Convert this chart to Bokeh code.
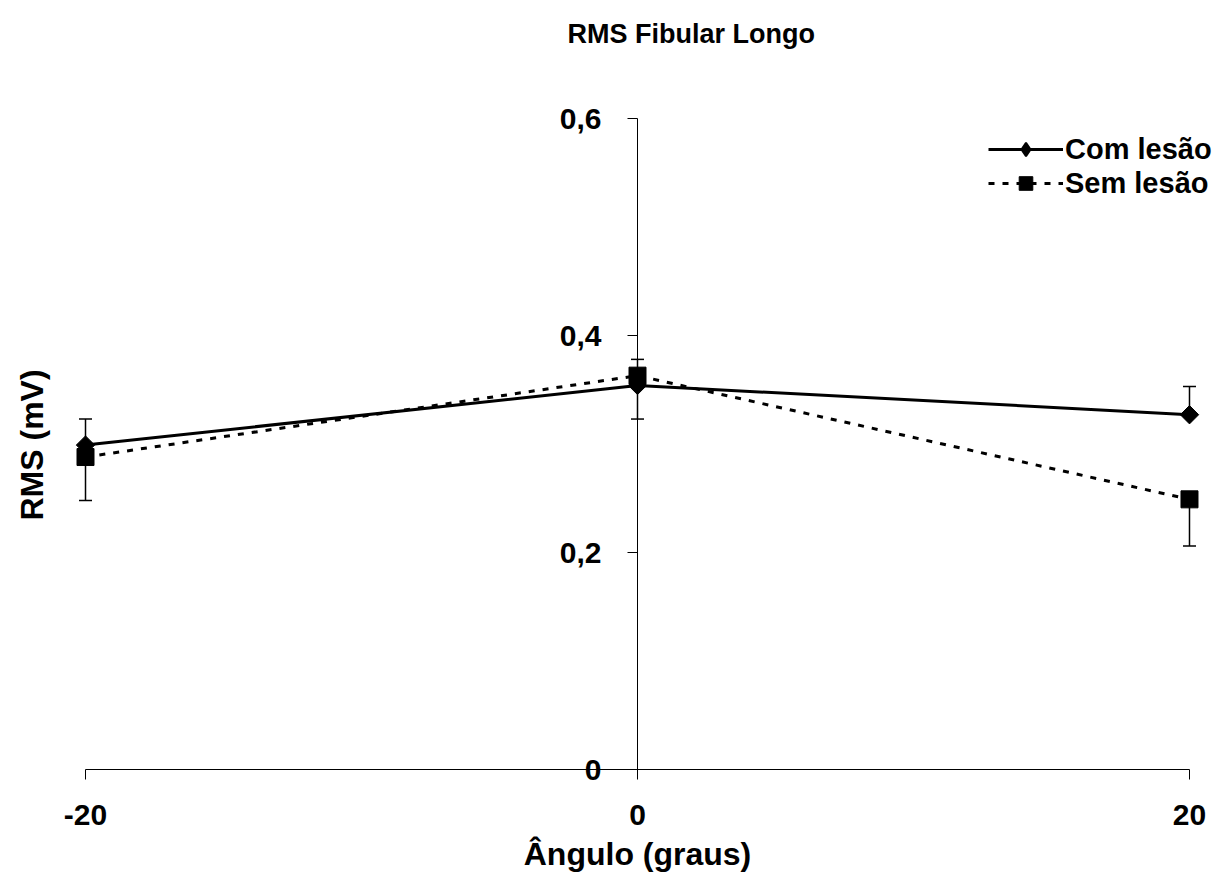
import numpy as np
from bokeh.plotting import figure
from bokeh.models import (FixedTicker, CustomJSTickFormatter, Whisker, TeeHead,
                          Legend, LegendItem, Title, Label, ColumnDataSource)
from bokeh.embed import file_html
from bokeh.resources import INLINE

# ---- data ----
angles = [-20, 0, 20]
com_lesao = [0.299, 0.354, 0.327]
com_lesao_err = [0.024, 0.024, 0.026]   # upper error
sem_lesao = [0.288, 0.363, 0.249]
sem_lesao_err = [0.040, 0.040, 0.043]   # lower error
x_ticks = [-20, 0, 20]
x_tick_labels = ["-20", "0", "20"]
y_ticks = [0, 0.2, 0.4, 0.6]
y_tick_labels = ["0", "0,2", "0,4", "0,6"]
series_names = ["Com lesão", "Sem lesão"]
title_text = "RMS Fibular Longo"
x_label = "Ângulo (graus)"
y_label = "RMS (mV)"

FONT = "Liberation Sans"

LOOKUP = """
    let best = 0, bd = Infinity;
    for (let i = 0; i < tvals.length; i++) {
        const d = Math.abs(tvals[i] - tick);
        if (d < bd) { bd = d; best = i; }
    }
    return tlabels[best];
"""

p = figure(frame_width=1154, frame_height=880,
           x_range=(-20.906, 20.906), y_range=(-0.1023, 0.70876),
           output_backend="svg", toolbar_location=None,
           min_border_left=60, min_border_right=2,
           min_border_top=0, min_border_bottom=0)
p.title = None
p.outline_line_color = None
p.xgrid.visible = False
p.ygrid.visible = False
p.background_fill_color = "white"
p.border_fill_color = "white"

# chart title (inside the frame, above the plot area)
p.add_layout(Label(x=-2.536, y=0.678, text=title_text, text_font=FONT,
                   text_font_size="27px", text_font_style="bold", text_color="black",
                   text_align="left", text_baseline="middle"))
p.add_layout(Title(text=y_label, text_font=FONT, text_font_size="32px",
                   text_font_style="bold", text_color="black",
                   align="left", offset=360, standoff=22), "left")

# x axis at y = 0
xa = p.xaxis[0]
xa.fixed_location = 0
xa.ticker = FixedTicker(ticks=x_ticks)
xa.formatter = CustomJSTickFormatter(args=dict(tvals=x_ticks, tlabels=x_tick_labels), code=LOOKUP)
xa.bounds = (-20, 20)
xa.minor_tick_line_color = None
xa.major_tick_in = 0
xa.major_tick_out = 10
xa.major_tick_line_color = "black"
xa.axis_line_color = "black"
xa.axis_line_width = 1
xa.major_label_text_font = FONT
xa.major_label_text_font_size = "30px"
xa.major_label_text_font_style = "bold"
xa.major_label_text_color = "black"
xa.major_label_standoff = 25
xa.axis_label = x_label
xa.axis_label_text_font = FONT
xa.axis_label_text_font_size = "32px"
xa.axis_label_text_font_style = "bold"
xa.axis_label_text_color = "black"
xa.axis_label_standoff = 8

# y axis at x = 0
ya = p.yaxis[0]
ya.fixed_location = 0
ya.ticker = FixedTicker(ticks=y_ticks)
ya.formatter = CustomJSTickFormatter(args=dict(tvals=y_ticks, tlabels=y_tick_labels), code=LOOKUP)
ya.bounds = (0, 0.6)
ya.minor_tick_line_color = None
ya.major_tick_in = 0
ya.major_tick_out = 10
ya.axis_line_color = "black"
ya.major_tick_line_color = "black"
ya.major_label_text_font = FONT
ya.major_label_text_font_size = "30px"
ya.major_label_text_font_style = "bold"
ya.major_label_text_color = "black"
ya.major_label_standoff = 26

# error bars
com_src = ColumnDataSource(dict(x=angles, y=com_lesao,
                                up=[v + e for v, e in zip(com_lesao, com_lesao_err)],
                                ang=[np.pi / 4] * len(angles)))
sem_src = ColumnDataSource(dict(x=angles, y=sem_lesao,
                                lo=[v - e for v, e in zip(sem_lesao, sem_lesao_err)]))
w1 = Whisker(base="x", lower="y", upper="up", source=com_src, dimension="height",
             line_color="black", line_width=1.5,
             upper_head=TeeHead(size=13, line_color="black", line_width=1.5), lower_head=None)
w2 = Whisker(base="x", lower="lo", upper="y", source=sem_src, dimension="height",
             line_color="black", line_width=1.5,
             lower_head=TeeHead(size=13, line_color="black", line_width=1.5), upper_head=None)
p.add_layout(w1)
p.add_layout(w2)

l1 = p.line("x", "y", source=com_src, line_color="black", line_width=3)
l2 = p.line("x", "y", source=sem_src, line_color="black", line_width=3, line_dash="6 8")
# small diamond hidden under the rotated-square marker; used for the legend glyph
m1_leg = p.scatter("x", "y", source=com_src, marker="diamond", size=9,
                   fill_color="black", line_color="black", line_width=2)
m1 = p.scatter("x", "y", source=com_src, marker="square", angle="ang", size=13,
               fill_color="black", line_color="black")
m2 = p.scatter("x", "y", source=sem_src, marker="square", size=17,
               fill_color="black", line_color="black")

legend = Legend(items=[LegendItem(label=series_names[0], renderers=[l1, m1_leg]),
                       LegendItem(label=series_names[1], renderers=[l2, m2])],
                location=(928, 680), margin=0, padding=0, spacing=0,
                glyph_width=75, glyph_height=34, label_height=30,
                label_standoff=2,
                label_text_font=FONT, label_text_font_size="29px",
                label_text_font_style="bold", label_text_color="black",
                border_line_color=None, background_fill_alpha=0)
p.add_layout(legend)

open("out.html", "w").write(file_html(p, INLINE))
